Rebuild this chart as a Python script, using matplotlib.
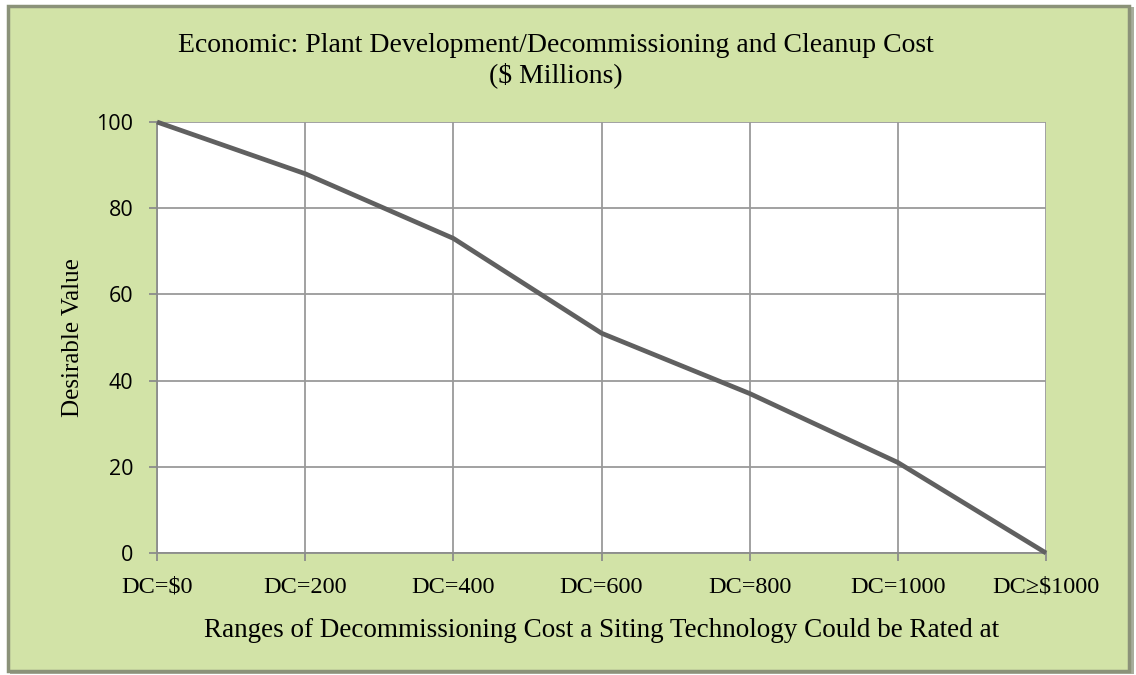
import matplotlib.pyplot as plt
from matplotlib.patches import Rectangle

categories = ["DC=$0", "DC=200", "DC=400", "DC=600", "DC=800", "DC=1000", "DC\u2265$1000"]
desirable = [100, 88, 73, 51, 37, 21, 0]
y_ticks = [0, 20, 40, 60, 80, 100]

W, H = 1136, 675
fig = plt.figure(figsize=(W / 100, H / 100), dpi=100)
fig.patch.set_facecolor("white")

# green panel with grey frame and a little drop shadow
fig.patches.append(Rectangle((10 / W, 1 - 674 / H), 1124 / W, 667 / H, transform=fig.transFigure,
                             facecolor="#a8ad9c", edgecolor="none", zorder=-2))
fig.patches.append(Rectangle((8 / W, 1 - 671 / H), 1121 / W, 665 / H, transform=fig.transFigure,
                             facecolor="#d2e3a7", edgecolor="#8b9279", linewidth=2.5, zorder=-1))

left, right, top, bottom = 157, 1046, 122, 553
ax = fig.add_axes([left / W, 1 - bottom / H, (right - left) / W, (bottom - top) / H], zorder=1)
ax.set_facecolor("white")

x = list(range(len(categories)))
ax.plot(x, desirable, color="#606060", linewidth=3.4, solid_capstyle="butt", zorder=3, clip_on=False)

ax.set_xlim(0, len(categories) - 1)
ax.set_ylim(0, 100)
ax.set_xticks(x)
ax.set_xticklabels(categories, fontfamily="Liberation Serif", fontsize=17.5)
ax.set_yticks(y_ticks)
ax.set_yticklabels([str(v) for v in y_ticks], fontfamily="Open Sans", fontsize=15.5)
ax.grid(True, color="#9a9a9a", linewidth=1.3)
ax.set_axisbelow(True)
for s in ["top", "right"]:
    ax.spines[s].set_visible(False)
for s in ["left", "bottom"]:
    ax.spines[s].set_color("#8c8c8c")
    ax.spines[s].set_linewidth(1.3)
ax.tick_params(axis="both", color="#8c8c8c", width=1.3, length=6)
ax.tick_params(axis="x", pad=11)
ax.tick_params(axis="y", pad=11)

ax.set_ylabel("Desirable Value", fontfamily="Liberation Serif", fontsize=18, labelpad=9)
ax.set_xlabel("Ranges of Decommissioning Cost a Siting Technology Could be Rated at",
              fontfamily="Liberation Serif", fontsize=19.5, labelpad=15)

fig.text(556 / W, 1 - 61 / H, "Economic: Plant Development/Decommissioning and Cleanup Cost\n($ Millions)",
         ha="center", va="center", fontfamily="Liberation Serif", fontsize=20, linespacing=1.22)

fig.savefig("out.png", dpi=100, facecolor=fig.get_facecolor())
